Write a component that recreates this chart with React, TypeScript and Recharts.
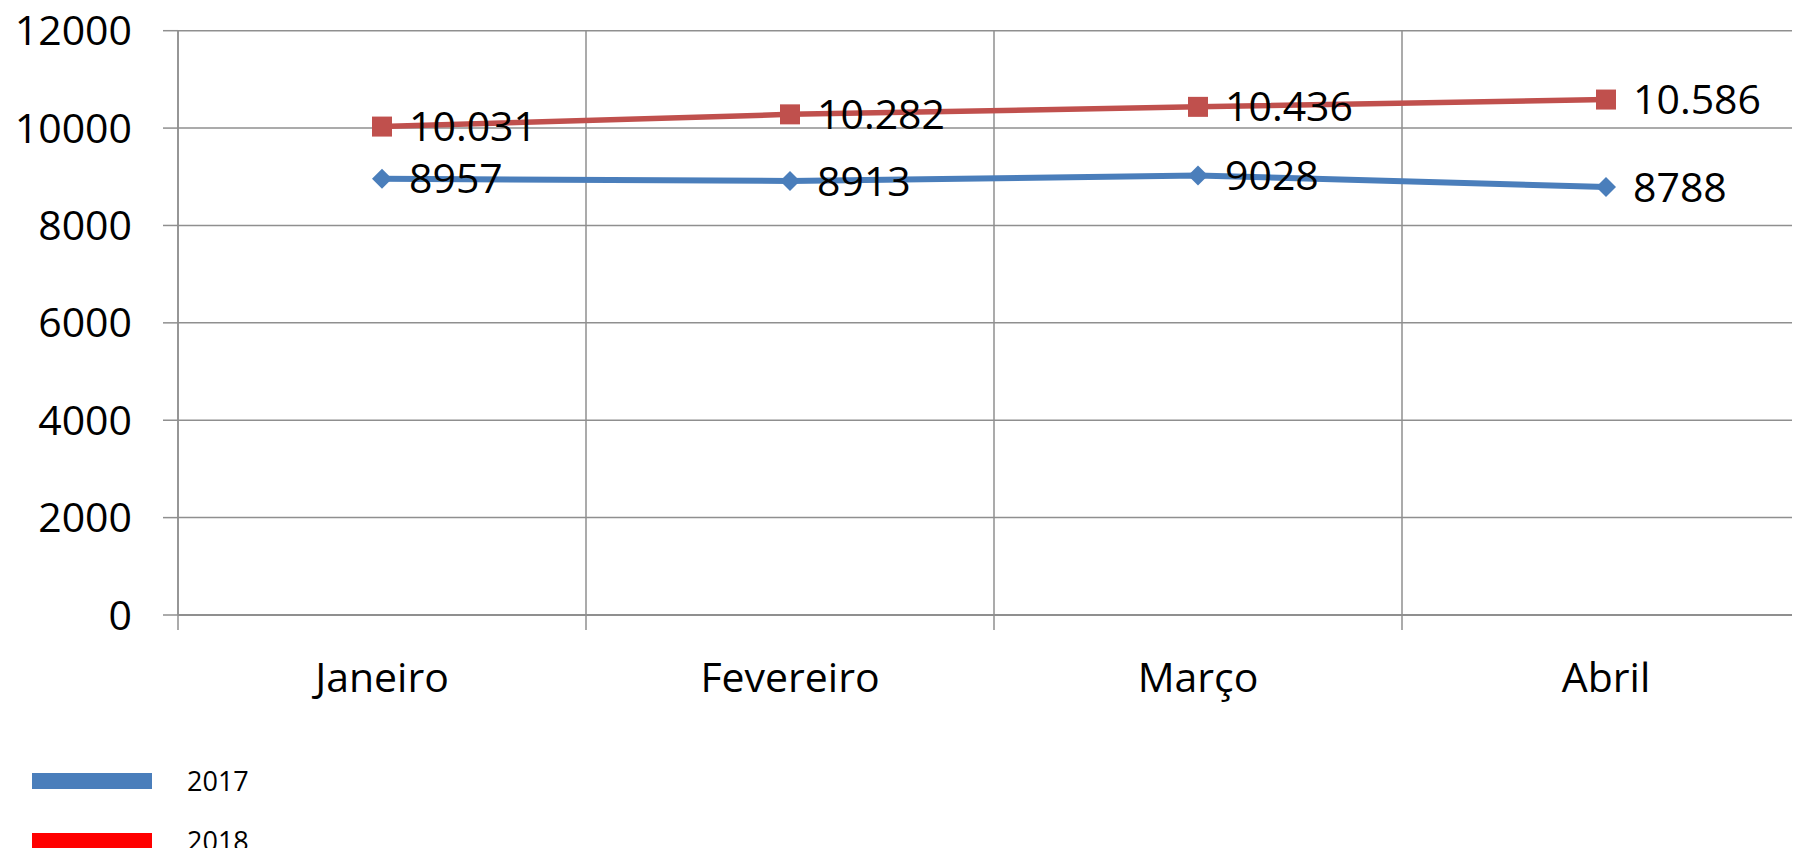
import React from "react";
import { LineChart, Line, XAxis, YAxis, CartesianGrid, Legend, LabelList, ReferenceLine } from "recharts";

const months = ["Janeiro", "Fevereiro", "Março", "Abril"];
const values2017 = [8957, 8913, 9028, 8788];
const values2018 = [10031, 10282, 10436, 10586];
const yTicks = [0, 2000, 4000, 6000, 8000, 10000, 12000];
const seriesNames = ["2017", "2018"];
const lineColors = ["#4a7ebb", "#c0504d"];
const legendColors = ["#4a7ebb", "#ff0000"];

const data = months.map((m, i) => ({ month: m, y2017: values2017[i], y2018: values2018[i] }));

const FONT = "'Open Sans', sans-serif";
const GRID = "#8f8f8f";
const TICK_MARGIN = 48;

// 2018 labels use a dot as thousands separator, 2017 labels don't
const plain = (v: any) => String(v);
const withDots = (v: any) => String(v).replace(/\B(?=(\d{3})+(?!\d))/g, ".");

const renderDiamond = (props: any) => {
  const { cx, cy, index } = props;
  const r = 10;
  return (
    <path
      key={`dia-${index}`}
      d={`M${cx},${cy - r}L${cx + r},${cy}L${cx},${cy + r}L${cx - r},${cy}Z`}
      fill={lineColors[0]}
    />
  );
};

const renderSquare = (props: any) => {
  const { cx, cy, index } = props;
  return <rect key={`sq-${index}`} x={cx - 10} y={cy - 10} width={20} height={20} fill={lineColors[1]} />;
};

// month label + small tick marks on the category edges
const MonthTick = (props: any) => {
  const { x, y, payload, index, visibleTicksCount } = props;
  const half = payload.offset || 0;
  const top = y - TICK_MARGIN;
  return (
    <g>
      <line x1={x - half} x2={x - half} y1={top} y2={top + 15} stroke={GRID} strokeWidth={1.5} />
      {index === visibleTicksCount - 1 && (
        <line x1={x + half} x2={x + half} y1={top} y2={top + 15} stroke={GRID} strokeWidth={1.5} />
      )}
      <text x={x} y={y} dy="0.71em" textAnchor="middle" fill="#000" fontSize={41} fontFamily={FONT}>
        {payload.value}
      </text>
    </g>
  );
};

const renderLegend = (props: any) => {
  const items = props.payload || [];
  return (
    <div style={{ height: 100, paddingTop: 12, boxSizing: "border-box", fontFamily: FONT }}>
      {items.map((item: any, i: number) => (
        <div
          key={item.value}
          style={{ display: "flex", alignItems: "center", height: 26, marginBottom: 34 }}
        >
          <div style={{ width: 120, height: 16, background: legendColors[i] }} />
          <span style={{ marginLeft: 35, fontSize: 27, lineHeight: "26px", color: "#000" }}>{item.value}</span>
        </div>
      ))}
    </div>
  );
};

export default function App() {
  return (
    <div style={{ width: 1792, height: 848, overflow: "hidden", marginBottom: -8, fontFamily: FONT }}>
      <LineChart width={1802} height={848} data={data} margin={{ top: 22.7, right: 0, bottom: 0, left: 0 }}>
        <CartesianGrid vertical={false} stroke={GRID} strokeWidth={1.5} />
        <XAxis
          dataKey="month"
          scale="band"
          interval={0}
          height={141}
          tickLine={false}
          axisLine={{ stroke: GRID, strokeWidth: 2 }}
          tickSize={0}
          tickMargin={TICK_MARGIN}
          tick={<MonthTick />}
        />
        <YAxis
          domain={[0, 12000]}
          ticks={yTicks}
          interval={0}
          width={170}
          tickSize={15}
          tickMargin={31}
          tickLine={{ stroke: GRID, strokeWidth: 1.5 }}
          axisLine={{ stroke: GRID, strokeWidth: 1.5 }}
          tick={{ fill: "#000", fontSize: 41, fontFamily: FONT }}
        />
        {months.map((m) => (
          <ReferenceLine key={m} x={m} position="start" stroke={GRID} strokeWidth={1.5} />
        ))}
        <ReferenceLine x={months[months.length - 1]} position="end" stroke={GRID} strokeWidth={1.5} />
        <Legend verticalAlign="bottom" align="left" wrapperStyle={{ left: 24, bottom: 0, width: 400 }} content={renderLegend} />
        <Line
          dataKey="y2017"
          name={seriesNames[0]}
          stroke={lineColors[0]}
          strokeWidth={6}
          dot={renderDiamond}
          activeDot={false}
          isAnimationActive={false}
        >
          <LabelList dataKey="y2017" position="right" offset={27} formatter={plain} fill="#000" fontSize={41} fontFamily={FONT} />
        </Line>
        <Line
          dataKey="y2018"
          name={seriesNames[1]}
          stroke={lineColors[1]}
          strokeWidth={5.5}
          dot={renderSquare}
          activeDot={false}
          isAnimationActive={false}
        >
          <LabelList dataKey="y2018" position="right" offset={27} formatter={withDots} fill="#000" fontSize={41} fontFamily={FONT} />
        </Line>
      </LineChart>
    </div>
  );
}
